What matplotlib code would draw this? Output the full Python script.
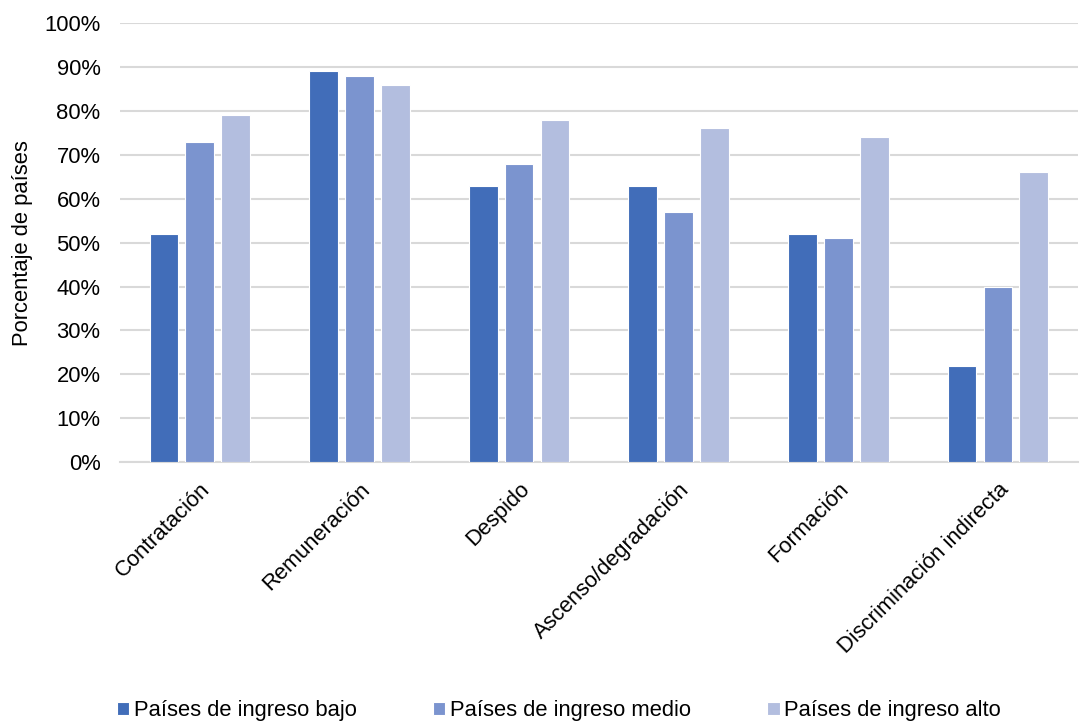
import numpy as np
import matplotlib.pyplot as plt
from matplotlib.ticker import PercentFormatter

plt.rcParams['font.family'] = ['Liberation Sans', 'DejaVu Sans']

categorias = ["Contratación", "Remuneración", "Despido", "Ascenso/degradación",
              "Formación", "Discriminación indirecta"]
ingreso_bajo = [52, 89, 63, 63, 52, 22]
ingreso_medio = [73, 88, 68, 57, 51, 40]
ingreso_alto = [79, 86, 78, 76, 74, 66]

series = [
    ("Países de ingreso bajo", ingreso_bajo, "#416DB9"),
    ("Países de ingreso medio", ingreso_medio, "#7B94CF"),
    ("Países de ingreso alto", ingreso_alto, "#B3BEDF"),
]

fs = 15.8

fig = plt.figure(figsize=(10.81, 7.21), dpi=100)
ax = fig.add_axes([0.111, 0.359, 0.886, 0.609])

x = np.arange(len(categorias))
ancho = 0.18
paso = 0.225
for i, (nombre, valores, color) in enumerate(series):
    ax.bar(x + (i - 1) * paso, valores, ancho, color=color, label=nombre,
           edgecolor="white", linewidth=0.8, zorder=3)

ax.set_xlim(-0.5, len(categorias) - 0.5)
ax.set_ylim(0, 100)
ax.set_yticks(np.arange(0, 101, 10))
ax.yaxis.set_major_formatter(PercentFormatter(decimals=0))
ax.grid(axis="y", color="#D9D9D9", linewidth=1.5, zorder=0)
for s in ["top", "right", "left"]:
    ax.spines[s].set_visible(False)
ax.spines["bottom"].set_color("#D9D9D9")
ax.spines["bottom"].set_linewidth(1.5)
ax.tick_params(axis="both", length=0, labelsize=fs, colors="black")
ax.tick_params(axis="y", pad=14)
ax.set_xticks(x)
ax.set_xticklabels(categorias, rotation=45, ha="right", rotation_mode="anchor")
ax.tick_params(axis="x", pad=12)
ax.set_ylabel("Porcentaje de países", fontsize=fs, labelpad=8)

fig.legend(loc="lower center", bbox_to_anchor=(0.517, -0.028), ncol=3, frameon=False,
           fontsize=fs, handlelength=0.55, handleheight=0.55, handletextpad=0.2,
           columnspacing=3.5)

fig.savefig("out.png", dpi=100)
